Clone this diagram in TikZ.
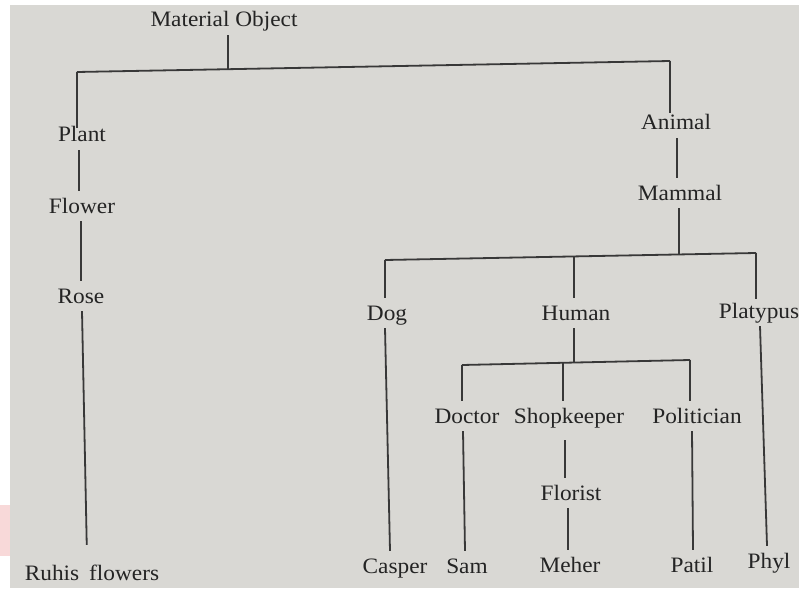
\documentclass[tikz,border=0pt]{standalone}
\usepackage{fontspec}
\setmainfont{Liberation Serif}[FakeStretch=1.06]
\definecolor{paper}{HTML}{D9D8D4}
\definecolor{ink}{HTML}{242424}
\definecolor{rule}{HTML}{383838}
\definecolor{smear}{HTML}{F8D9D9}
\begin{document}
\begin{tikzpicture}[x=1pt,y=-1pt,
    lbl/.style={anchor=base, inner xsep=0pt, inner ysep=8pt,
                text height=14pt, text depth=0pt, text=ink,
                font=\fontsize{22}{26}\selectfont},
    link/.style={draw=rule, line width=1.8pt}]
  % page and paper
  \useasboundingbox (0,0) rectangle (799,588);
  \fill[white] (0,0) rectangle (799,588);
  \fill[paper] (10,5) rectangle (799,588);
  \fill[smear] (0,505) rectangle (10,556);

  % labels
  \node[lbl] (mo)         at (224,27)  {Material Object};
  \node[lbl] (plant)      at (82,142)  {Plant};
  \node[lbl] (flower)     at (82,213)  {Flower};
  \node[lbl] (rose)       at (81,303)  {Rose};
  \node[lbl] (ruhis)      at (92,580)  {Ruhis\hspace{0.45em}flowers};
  \node[lbl] (animal)     at (676,130) {Animal};
  \node[lbl] (mammal)     at (680,200) {Mammal};
  \node[lbl] (dog)        at (387,320) {Dog};
  \node[lbl] (human)      at (576,320) {Human};
  \node[lbl] (platypus)   at (759,318) {Platypus};
  \node[lbl] (doctor)     at (467,423) {Doctor};
  \node[lbl] (shop)       at (569,423) {Shopkeeper};
  \node[lbl] (politician) at (697,423) {Politician};
  \node[lbl] (florist)    at (571,500) {Florist};
  \node[lbl] (casper)     at (395,573) {Casper};
  \node[lbl] (sam)        at (467,573) {Sam};
  \node[lbl] (meher)      at (570,572) {Meher};
  \node[lbl] (patil)      at (692,572) {Patil};
  \node[lbl] (phyl)       at (769,568) {Phyl};

  % branch points
  \coordinate (jL)   at (77,72);
  \coordinate (jA)   at (228,69);
  \coordinate (jR)   at (670,61);
  \coordinate (jDog) at (385,260);
  \coordinate (jMam) at (679,255);
  \coordinate (jHum) at (574,257);
  \coordinate (jPla) at (756,253);
  \coordinate (jDoc) at (462,365);
  \coordinate (jHm)  at (574,362);
  \coordinate (jShp) at (563,362);
  \coordinate (jPol) at (690,360);

  % Material Object -> Plant / Animal
  \draw[link] (mo.south -| jA) -- (jA);
  \draw[link] (jL) -- (jR);
  \draw[link, shorten >=-8pt] (jL) -- (jL |- plant.north);
  \draw[link, shorten >=-5pt] (jR) -- (jR |- animal.north);

  % plant branch
  \draw[link] ([xshift=-3pt]plant.south) -- ([xshift=-3pt]flower.north);
  \draw[link] ([xshift=-1pt]flower.south) -- (rose.north);
  \draw[link, shorten >=13pt] ([xshift=1pt]rose.south) -- ([xshift=-5pt]ruhis.north);

  % animal branch
  \draw[link] ([xshift=1pt]animal.south) -- ([xshift=-3pt]mammal.north);
  \draw[link] (mammal.south -| jMam) -- (jMam);
  \draw[link] (jDog) -- (jPla);
  \draw[link] (jDog) -- (jDog |- dog.north);
  \draw[link] (jHum) -- (jHum |- human.north);
  \draw[link, shorten >=-3pt] (jPla) -- (jPla |- platypus.north);
  \draw[link] ([xshift=-2pt]dog.south) -- ([xshift=-5pt]casper.north);
  \draw[link] ([xshift=1pt]platypus.south) -- ([xshift=-2pt]phyl.north);

  % human branch
  \draw[link] (human.south -| jHm) -- (jHm);
  \draw[link] (jDoc) -- (jPol);
  \draw[link] (jDoc) -- (jDoc |- doctor.north);
  \draw[link] (jShp) -- (jShp |- shop.north);
  \draw[link] (jPol) -- (jPol |- politician.north);
  \draw[link] ([xshift=-4pt]doctor.south) -- ([xshift=-2pt]sam.north);
  \draw[link, shorten <=9pt] ([xshift=-4pt]shop.south) -- ([xshift=-6pt]florist.north);
  \draw[link] ([xshift=-3pt]florist.south) -- ([xshift=-2pt]meher.north);
  \draw[link] ([xshift=-5pt]politician.south) -- ([xshift=1pt]patil.north);
\end{tikzpicture}
\end{document}
